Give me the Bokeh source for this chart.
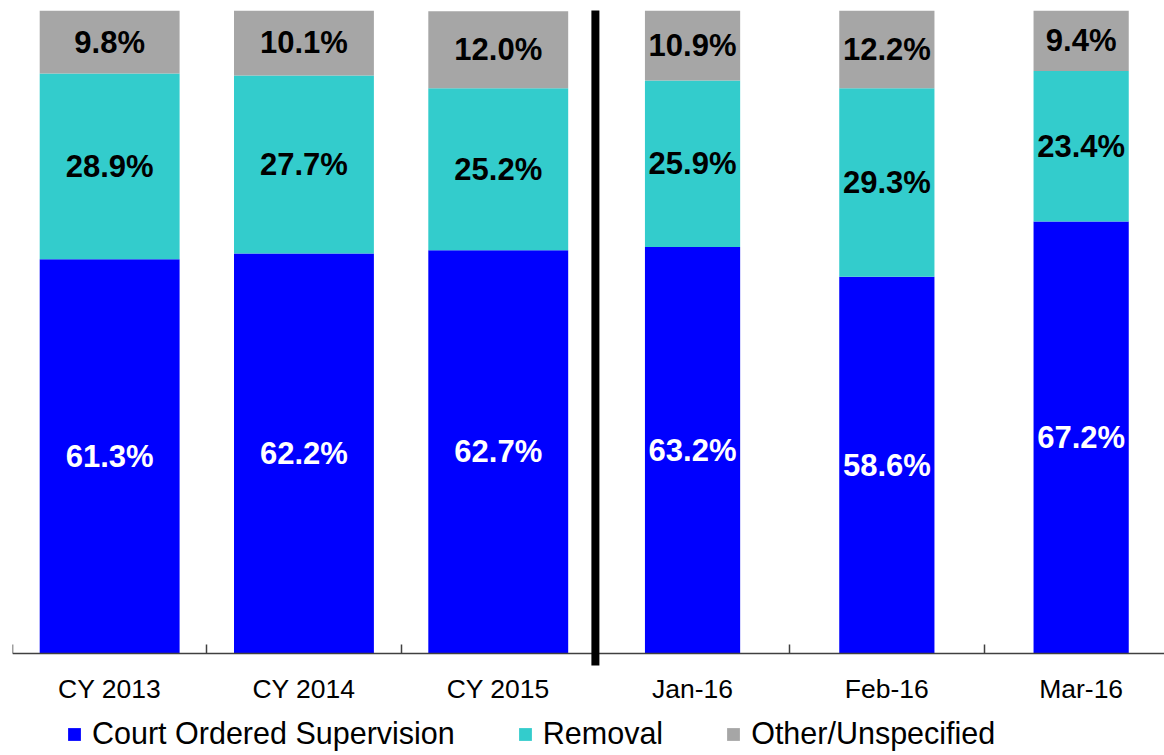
from bokeh.plotting import figure
from bokeh.models import (Range1d, FixedTicker, ColumnDataSource, Legend, LegendItem,
                          BoxAnnotation)
from bokeh.core.properties import value
from bokeh.embed import file_html
from bokeh.resources import INLINE

# ---- data ----
categories = ["CY 2013", "CY 2014", "CY 2015", "Jan-16", "Feb-16", "Mar-16"]
court = [61.3, 62.2, 62.7, 63.2, 58.6, 67.2]
removal = [28.9, 27.7, 25.2, 25.9, 29.3, 23.4]
other = [9.8, 10.1, 12.0, 10.9, 12.2, 9.4]
series_names = ["Court Ordered Supervision", "Removal", "Other/Unspecified"]

# ---- styling ----
colors = ["#0000FF", "#33CCCC", "#A6A6A6"]
label_colors = ["white", "black", "black"]
FONT = "Liberation Sans"
CAT_PX = 194.3
W, H = 1164, 755
LEFT, TOP = 12, 10
FRAME_W = W - LEFT
PLOT_H = 643            # pixels from 0% to 100%
BELOW = H - TOP - PLOT_H  # room under the baseline for labels and legend

n = len(categories)
x = [i + 0.5 for i in range(n)]
widths = [0.72 if i < 3 else 0.49 for i in range(n)]

src = ColumnDataSource(dict(x=x, w=widths, court=court, removal=removal, other=other))

px_x = 1 / CAT_PX
px_y = 100 / PLOT_H

p = figure(width=W, height=H,
           x_range=Range1d(0, FRAME_W / CAT_PX), y_range=Range1d(-BELOW * px_y, 100),
           output_backend="svg", toolbar_location=None,
           min_border_left=LEFT, min_border_right=0, min_border_top=TOP,
           min_border_bottom=0)
p.outline_line_color = None
p.grid.visible = False
p.yaxis.visible = False

renderers = p.vbar_stack(["court", "removal", "other"], x="x", width="w", source=src,
                         color=colors, line_color=None)

# value labels
series = [court, removal, other]
bottom = [0.0] * n
for vals, tc in zip(series, label_colors):
    mids = [b + v / 2 for b, v in zip(bottom, vals)]
    lsrc = ColumnDataSource(dict(x=x, y=mids, t=[f"{v:.1f}%" for v in vals]))
    p.text(x="x", y="y", text="t", source=lsrc, text_align="center", text_baseline="middle",
           text_font=value(FONT), text_font_style="bold", text_font_size="31px",
           text_color=tc)
    bottom = [b + v for b, v in zip(bottom, vals)]

# separator between annual and monthly data
p.add_layout(BoxAnnotation(left=3 - 4 * px_x, right=3 + 4 * px_x, bottom=-12 * px_y,
                           top=100 + 1 * px_y, fill_color="black", fill_alpha=1,
                           line_color=None, level="overlay"))

ax = p.xaxis[0]
ax.fixed_location = 0
ax.ticker = FixedTicker(ticks=x, minor_ticks=list(range(n + 1)))
ax.major_label_overrides = {xi: c for xi, c in zip(x, categories)}
ax.major_tick_line_color = None
ax.major_tick_in = 0
ax.major_tick_out = 0
ax.minor_tick_in = 9
ax.minor_tick_out = 0
ax.minor_tick_line_color = "#404040"
ax.minor_tick_line_width = 1.5
ax.axis_line_color = "#404040"
ax.axis_line_width = 1.5
ax.major_label_text_font = FONT
ax.major_label_text_font_size = "26.5px"
ax.major_label_text_color = "black"
ax.major_label_standoff = 20

items = [LegendItem(label=name, renderers=[r]) for name, r in zip(series_names, renderers)]
legend = Legend(items=items, orientation="horizontal", location=(54, 4),
                glyph_width=16, glyph_height=16, label_standoff=10, spacing=62,
                padding=0, margin=0, border_line_color=None, background_fill_alpha=0,
                label_text_font=FONT, label_text_font_size="30.5px", label_text_color="black")
p.add_layout(legend)

open("out.html", "w").write(file_html(p, INLINE))
